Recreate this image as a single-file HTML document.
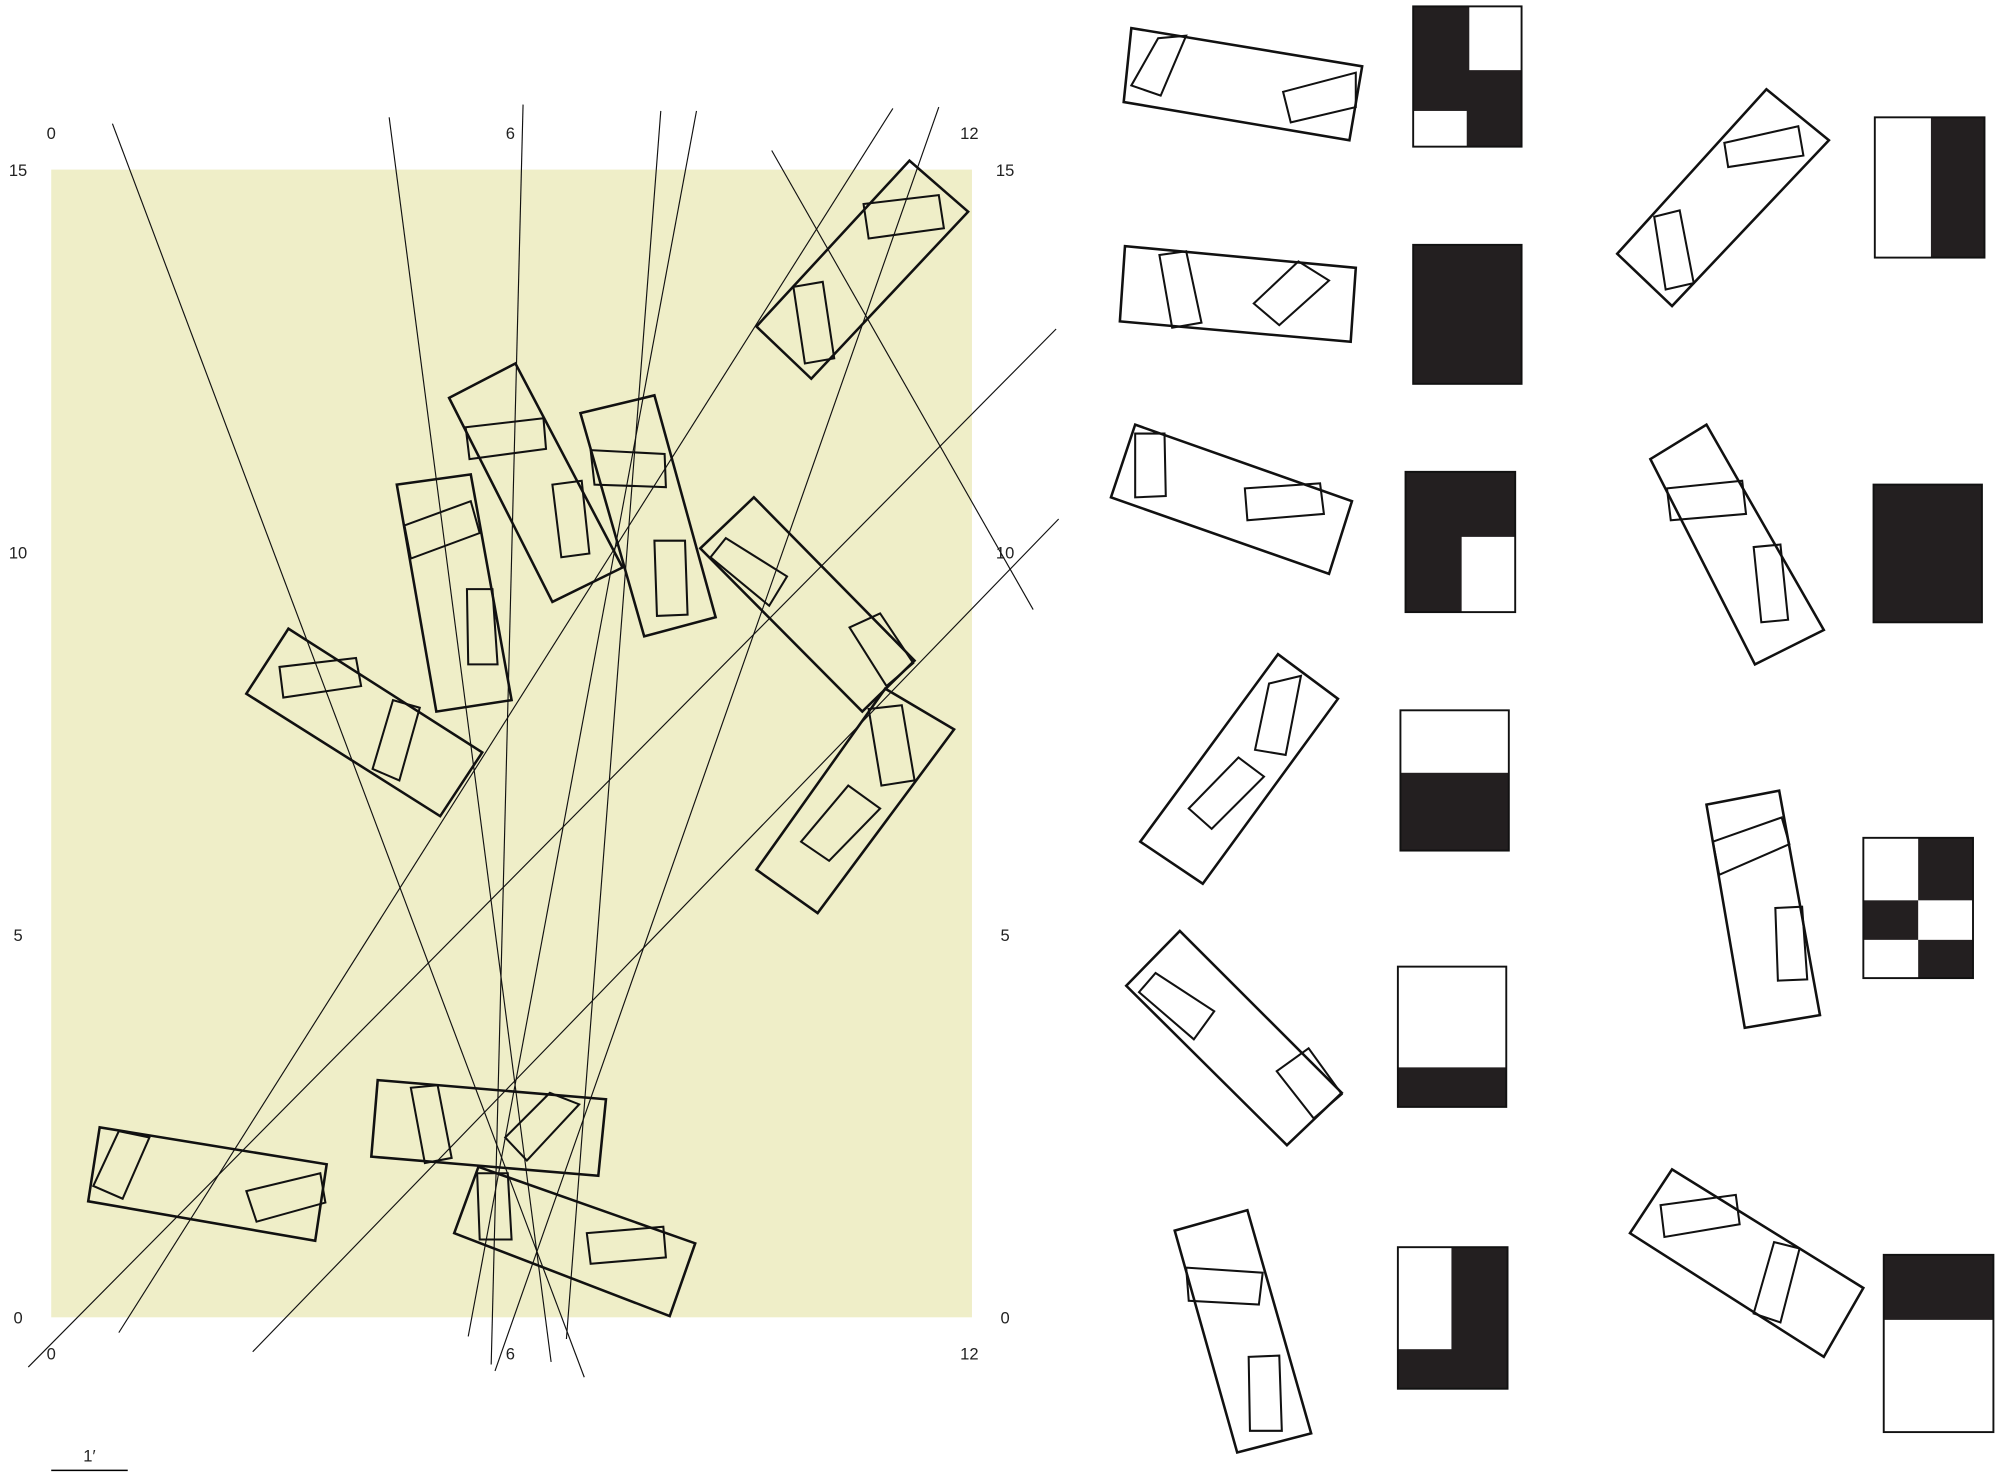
<!DOCTYPE html>
<html><head><meta charset="utf-8">
<style>
html,body{margin:0;padding:0;background:#fff;}
svg{display:block;}
text{font-family:"Liberation Sans",sans-serif;font-size:13px;fill:#222;}
</style></head>
<body>
<svg id="c" width="2000" height="1478" viewBox="0 0 1568 1159" xmlns="http://www.w3.org/2000/svg">
<rect x="40" y="133" width="722" height="900" fill="#efeec8"/>
<g>
<text x="40" y="109" text-anchor="middle">0</text>
<text x="400" y="109" text-anchor="middle">6</text>
<text x="760" y="109" text-anchor="middle">12</text>
<text x="40" y="1066" text-anchor="middle">0</text>
<text x="400" y="1066" text-anchor="middle">6</text>
<text x="760" y="1066" text-anchor="middle">12</text>
<text x="14" y="138" text-anchor="middle">15</text>
<text x="14" y="438" text-anchor="middle">10</text>
<text x="14" y="738" text-anchor="middle">5</text>
<text x="14" y="1038" text-anchor="middle">0</text>
<text x="788" y="138" text-anchor="middle">15</text>
<text x="788" y="438" text-anchor="middle">10</text>
<text x="788" y="738" text-anchor="middle">5</text>
<text x="788" y="1038" text-anchor="middle">0</text>
</g>
<g>
<text x="70" y="1146" text-anchor="middle">1′</text>
<line x1="40" y1="1153" x2="100" y2="1153" stroke="#000" stroke-width="1.2"/>
</g>
<g id="lines"></g>
<g id="shapes"></g>
<g id="squares"></g>
</svg>
<script>
const lines=[[88,97,458,1080],[305,92,432,1068],[410,82,385,1070],[518,87,444,1050],[546,87,367,1048],[700,85,93,1045],[736,84,388,1075],[605,118,810,478],[22,1072,828,258],[198,1060,830,407]];
const shapes=[
[[593,256,713,126,759,166,636,297],[677,160,736,153,740,179,681,187],[622,225,645,221,654,281,631,285]],
[[352,312,404,285,488,445,433,472],[365,335,426,328,428,352,368,360],[433,380,456,377,462,434,440,437]],
[[455,324,513,310,561,484,505,499],[463,353,521,356,522,382,466,380],[513,424,537,424,539,482,515,483]],
[[311,380,369,372,401,549,342,558],[317,412,369,393,376,418,322,438],[366,462,386,462,390,521,367,521]],
[[549,430,591,390,717,518,676,558],[557,437,569,422,617,452,603,475],[666,492,690,481,716,520,695,538]],
[[193,544,226,493,378,590,345,640],[219,523,279,516,283,538,222,547],[292,603,308,549,329,555,313,612]],
[[593,682,694,540,748,572,641,716],[681,556,707,553,717,612,691,616],[628,660,665,616,690,634,650,675]],
[[69,942,78,884,256,913,247,973],[73,930,93,887,117,892,96,940],[193,934,251,920,255,943,201,958]],
[[291,907,296,847,475,862,469,922],[322,853,343,851,354,908,333,912],[396,892,431,857,454,866,413,910]],
[[356,967,375,915,545,975,525,1032],[374,920,398,920,401,972,376,972],[460,967,520,962,522,986,463,991]],
[[881,80,887,22,1068,52,1058,110],[887,67,908,30,930,28,910,75],[1006,72,1063,57,1063,84,1012,96]],
[[878,252,882,193,1063,210,1059,268],[909,200,930,197,942,253,919,257],[983,238,1018,205,1042,220,1003,255]],
[[871,390,890,333,1060,393,1042,450],[890,340,913,340,914,389,890,390],[976,383,1035,379,1038,403,978,408]],
[[894,660,1002,513,1049,548,943,693],[995,536,1020,530,1008,592,984,588],[932,634,971,594,991,609,950,650]],
[[883,773,925,730,1052,857,1009,898],[893,778,906,763,952,793,936,815],[1001,840,1026,822,1052,858,1030,877]],
[[921,965,978,949,1028,1124,970,1139],[930,994,990,998,987,1023,932,1020],[979,1064,1003,1063,1005,1122,980,1122]],
[[1268,199,1385,70,1434,110,1311,240],[1352,112,1410,99,1414,122,1355,131],[1297,170,1317,165,1328,222,1306,227]],
[[1294,360,1338,333,1430,494,1376,521],[1307,383,1366,377,1369,403,1310,408],[1375,429,1396,427,1402,486,1381,488]],
[[1338,631,1395,620,1427,796,1368,806],[1343,660,1397,641,1403,662,1348,686],[1392,712,1413,711,1417,768,1394,769]],
[[1278,967,1311,917,1461,1010,1430,1064],[1302,945,1361,937,1364,960,1305,970],[1375,1030,1391,974,1411,979,1396,1037]]
];
// squares: [x,y,w,h, fill, [sub-rects x,y,w,h with other color]]
const squares=[
[1108,5,85,110,"#231f20",[[1152,5,41,50,"#fff"],[1108,87,42,28,"#fff"]]],
[1108,192,85,109,"#231f20",[]],
[1102,370,86,110,"#231f20",[[1146,421,42,59,"#fff"]]],
[1098,557,85,110,"#fff",[[1098,606,85,61,"#231f20"]]],
[1096,758,85,110,"#fff",[[1096,837,85,31,"#231f20"]]],
[1096,978,86,111,"#231f20",[[1096,978,42,80,"#fff"]]],
[1470,92,86,110,"#fff",[[1514,92,42,110,"#231f20"]]],
[1469,380,85,108,"#231f20",[]],
[1461,657,86,110,"#fff",[[1504,657,43,49,"#231f20"],[1461,706,43,31,"#231f20"],[1504,737,43,30,"#231f20"]]],
[1477,984,86,139,"#fff",[[1477,984,86,51,"#231f20"]]]
];
const NS="http://www.w3.org/2000/svg";
const gl=document.getElementById('lines');
lines.forEach(l=>{const e=document.createElementNS(NS,'line');
e.setAttribute('x1',l[0]);e.setAttribute('y1',l[1]);e.setAttribute('x2',l[2]);e.setAttribute('y2',l[3]);
e.setAttribute('stroke','#111');e.setAttribute('stroke-width','0.9');


gl.appendChild(e);});
const gs=document.getElementById('shapes');
shapes.forEach(s=>{const g=document.createElementNS(NS,'g');


s.forEach((p,i)=>{const e=document.createElementNS(NS,'polygon');
let pts=[];for(let k=0;k<p.length;k+=2)pts.push(p[k]+','+p[k+1]);
e.setAttribute('points',pts.join(' '));e.setAttribute('fill','none');e.setAttribute('stroke','#111');
e.setAttribute('stroke-width',i===0?'2':'1.6');


g.appendChild(e);});gs.appendChild(g);});
const gq=document.getElementById('squares');
squares.forEach(q=>{const g=document.createElementNS(NS,'g');


const r=document.createElementNS(NS,'rect');
r.setAttribute('x',q[0]);r.setAttribute('y',q[1]);r.setAttribute('width',q[2]);r.setAttribute('height',q[3]);r.setAttribute('fill',q[4]);
g.appendChild(r);
q[5].forEach(c=>{const e=document.createElementNS(NS,'rect');
e.setAttribute('x',c[0]);e.setAttribute('y',c[1]);e.setAttribute('width',c[2]);e.setAttribute('height',c[3]);e.setAttribute('fill',c[4]);


g.appendChild(e);});
const b=document.createElementNS(NS,'rect');
b.setAttribute('x',q[0]);b.setAttribute('y',q[1]);b.setAttribute('width',q[2]);b.setAttribute('height',q[3]);b.setAttribute('fill','none');b.setAttribute('stroke','#111');b.setAttribute('stroke-width','1.5');
g.appendChild(b);
gq.appendChild(g);});
</script>
</body></html>
